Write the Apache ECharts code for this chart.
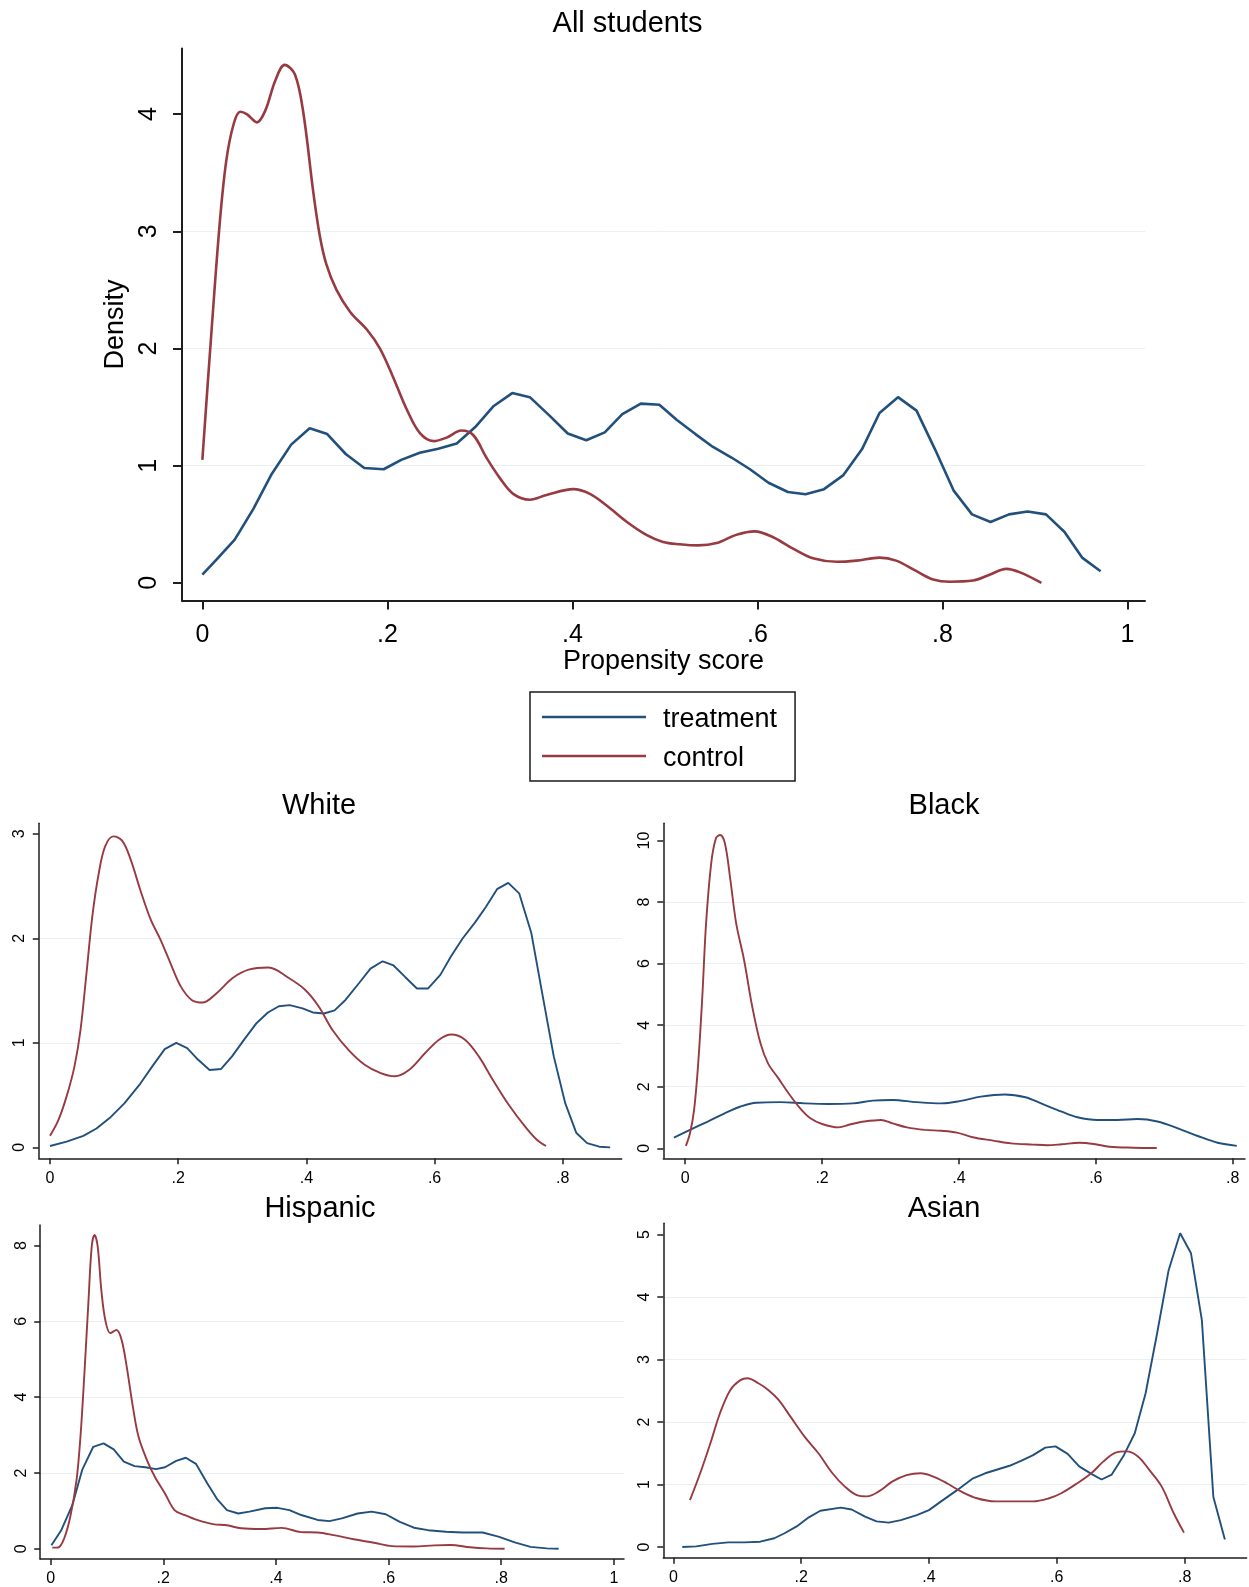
<!DOCTYPE html>
<html>
<head>
<meta charset="utf-8">
<script src="https://cdn.jsdelivr.net/npm/echarts@6/dist/echarts.min.js"></script>
<style>
  html, body { margin: 0; padding: 0; background: #ffffff; }
  #chart { width: 1249px; height: 1587px; }
</style>
</head>
<body>
<div id="chart"></div>
<script>
// Kernel density estimates of the propensity score, treatment vs control.

// ---- All students ----
const allTreatX = [0, 0.0155, 0.035, 0.055, 0.075, 0.096, 0.116, 0.135, 0.155, 0.175,
  0.196, 0.215, 0.235, 0.255, 0.275, 0.295, 0.315, 0.335, 0.354, 0.375,
  0.395, 0.415, 0.435, 0.454, 0.474, 0.494, 0.513, 0.533, 0.552, 0.572,
  0.592, 0.612, 0.633, 0.652, 0.672, 0.693, 0.713, 0.732, 0.752, 0.772,
  0.792, 0.812, 0.832, 0.852, 0.872, 0.892, 0.912, 0.932, 0.951, 0.971];
const allTreatY = [0.07, 0.20, 0.37, 0.63, 0.93, 1.18, 1.32, 1.27, 1.10, 0.98,
  0.97, 1.05, 1.11, 1.145, 1.19, 1.33, 1.51, 1.62, 1.585, 1.43,
  1.275, 1.217, 1.285, 1.44, 1.53, 1.52, 1.39, 1.27, 1.16, 1.07,
  0.97, 0.855, 0.776, 0.756, 0.80, 0.92, 1.14, 1.45, 1.585, 1.47,
  1.14, 0.79, 0.585, 0.52, 0.585, 0.61, 0.585, 0.435, 0.216, 0.10];
const allCtrlX = [0, 0.010, 0.019, 0.026, 0.034, 0.041, 0.048, 0.059, 0.068, 0.079,
  0.089, 0.100, 0.109, 0.120, 0.127, 0.134, 0.145, 0.160, 0.178, 0.192,
  0.206, 0.221, 0.235, 0.250, 0.264, 0.280, 0.293, 0.307, 0.322, 0.336,
  0.354, 0.372, 0.401, 0.419, 0.437, 0.459, 0.480, 0.498, 0.516, 0.536,
  0.556, 0.577, 0.597, 0.617, 0.639, 0.660, 0.686, 0.707, 0.732, 0.750,
  0.772, 0.790, 0.808, 0.833, 0.851, 0.869, 0.884, 0.907];
const allCtrlY = [1.05, 2.16, 3.09, 3.61, 3.92, 4.02, 4.00, 3.93, 4.03, 4.29,
  4.42, 4.34, 4.02, 3.33, 2.96, 2.72, 2.50, 2.31, 2.16, 2.00,
  1.76, 1.48, 1.28, 1.21, 1.24, 1.30, 1.26, 1.07, 0.89, 0.76,
  0.71, 0.75, 0.80, 0.76, 0.66, 0.52, 0.41, 0.35, 0.33, 0.32,
  0.34, 0.41, 0.44, 0.39, 0.29, 0.21, 0.18, 0.19, 0.216, 0.19,
  0.10, 0.03, 0.01, 0.02, 0.07, 0.12, 0.09, 0.0];

// ---- White ----
const whiteTreatX = [0, 0.026, 0.052, 0.0725, 0.093, 0.116, 0.141, 0.159, 0.179, 0.197,
  0.214, 0.229, 0.249, 0.267, 0.284, 0.304, 0.3225, 0.34, 0.357, 0.374,
  0.394, 0.41, 0.4275, 0.444, 0.461, 0.482, 0.50, 0.519, 0.536, 0.554,
  0.5725, 0.59, 0.609, 0.626, 0.644, 0.663, 0.68, 0.6975, 0.715, 0.732,
  0.751, 0.769, 0.786, 0.804, 0.821, 0.838, 0.857, 0.874];
const whiteTreatY = [0.013, 0.054, 0.11, 0.18, 0.28, 0.42, 0.61, 0.77, 0.94, 1.0,
  0.95, 0.85, 0.74, 0.75, 0.87, 1.04, 1.19, 1.29, 1.35, 1.36,
  1.33, 1.29, 1.28, 1.31, 1.41, 1.57, 1.71, 1.78, 1.74, 1.63,
  1.52, 1.52, 1.65, 1.83, 2.0, 2.15, 2.30, 2.47, 2.53, 2.43,
  2.05, 1.44, 0.87, 0.42, 0.14, 0.04, 0.006, 0.0];
const whiteCtrlX = [0, 0.013, 0.026, 0.038, 0.0475, 0.057, 0.066, 0.076, 0.086, 0.099,
  0.113, 0.126, 0.141, 0.157, 0.1725, 0.188, 0.204, 0.221, 0.238, 0.26,
  0.285, 0.31, 0.341, 0.3725, 0.3975, 0.419, 0.441, 0.466, 0.491, 0.516,
  0.538, 0.56, 0.585, 0.607, 0.626, 0.6475, 0.669, 0.691, 0.716, 0.741,
  0.76, 0.774];
const whiteCtrlY = [0.11, 0.26, 0.49, 0.77, 1.12, 1.67, 2.21, 2.62, 2.88, 2.975,
  2.93, 2.75, 2.46, 2.18, 1.985, 1.76, 1.54, 1.41, 1.385, 1.475,
  1.62, 1.70, 1.72, 1.62, 1.51, 1.35, 1.12, 0.93, 0.79, 0.71,
  0.68, 0.74, 0.90, 1.03, 1.08, 1.03, 0.87, 0.645, 0.405, 0.20,
  0.07, 0.013];

// ---- Black ----
const blackTreatX = [-0.0164, 0.007, 0.033, 0.063, 0.080, 0.104, 0.139, 0.174, 0.209, 0.245,
  0.274, 0.303, 0.338, 0.374, 0.403, 0.432, 0.467, 0.497, 0.52, 0.55,
  0.573, 0.602, 0.632, 0.661, 0.69, 0.72, 0.749, 0.778, 0.806];
const blackTreatY = [0.35, 0.60, 0.87, 1.19, 1.35, 1.48, 1.50, 1.46, 1.44, 1.46,
  1.55, 1.57, 1.50, 1.46, 1.54, 1.68, 1.75, 1.66, 1.46, 1.19,
  1.01, 0.92, 0.92, 0.95, 0.87, 0.65, 0.40, 0.18, 0.08];
const blackCtrlX = [0.001, 0.007, 0.013, 0.019, 0.025, 0.0305, 0.038, 0.045, 0.051, 0.058,
  0.066, 0.0745, 0.086, 0.098, 0.11, 0.121, 0.136, 0.151, 0.168, 0.183,
  0.2, 0.224, 0.242, 0.262, 0.286, 0.303, 0.324, 0.35, 0.374, 0.397,
  0.42, 0.45, 0.476, 0.508, 0.529, 0.55, 0.576, 0.597, 0.62, 0.655,
  0.689];
const blackCtrlY = [0.08, 0.49, 1.25, 2.76, 4.93, 7.31, 9.26, 10.08, 10.18, 9.91,
  8.72, 7.31, 6.12, 4.60, 3.41, 2.76, 2.28, 1.79, 1.30, 0.975,
  0.79, 0.68, 0.78, 0.87, 0.92, 0.81, 0.68, 0.60, 0.57, 0.51,
  0.36, 0.25, 0.16, 0.12, 0.10, 0.13, 0.18, 0.14, 0.05, 0.02,
  0.01];

// ---- Hispanic ----
const hispTreatX = [0.0014, 0.0186, 0.0385, 0.056, 0.0757, 0.094, 0.112, 0.13, 0.149, 0.168,
  0.187, 0.203, 0.223, 0.24, 0.258, 0.278, 0.296, 0.313, 0.333, 0.353,
  0.381, 0.4025, 0.424, 0.445, 0.474, 0.495, 0.517, 0.545, 0.57, 0.595,
  0.62, 0.645, 0.67, 0.702, 0.731, 0.767, 0.795, 0.824, 0.852, 0.881,
  0.902];
const hispTreatY = [0.09, 0.48, 1.15, 2.08, 2.69, 2.78, 2.62, 2.30, 2.18, 2.15,
  2.10, 2.15, 2.32, 2.40, 2.24, 1.73, 1.30, 1.02, 0.93, 0.98,
  1.07, 1.08, 1.02, 0.89, 0.76, 0.73, 0.80, 0.93, 0.98, 0.91,
  0.71, 0.555, 0.49, 0.45, 0.43, 0.43, 0.32, 0.17, 0.05, 0.01,
  0.0];
const hispCtrlX = [0.003, 0.0135, 0.024, 0.035, 0.046, 0.053, 0.06, 0.067, 0.073, 0.078,
  0.0835, 0.09, 0.097, 0.106, 0.117, 0.126, 0.135, 0.146, 0.156, 0.171,
  0.185, 0.203, 0.22, 0.238, 0.26, 0.288, 0.313, 0.338, 0.374, 0.41,
  0.445, 0.474, 0.5025, 0.538, 0.574, 0.606, 0.645, 0.681, 0.71, 0.745,
  0.774, 0.806];
const hispCtrlY = [0.03, 0.035, 0.27, 0.85, 1.81, 2.96, 4.63, 6.48, 7.98, 8.28,
  7.98, 6.83, 6.04, 5.69, 5.77, 5.51, 4.81, 3.75, 2.96, 2.34,
  1.90, 1.46, 1.02, 0.89, 0.76, 0.65, 0.62, 0.54, 0.52, 0.55,
  0.44, 0.43, 0.36, 0.25, 0.16, 0.07, 0.06, 0.09, 0.10, 0.04,
  0.01, 0.0];

// ---- Asian ----
const asianTreatX = [0.014, 0.036, 0.061, 0.086, 0.111, 0.136, 0.158, 0.174, 0.193, 0.212,
  0.23, 0.262, 0.279, 0.30, 0.318, 0.337, 0.356, 0.381, 0.40, 0.419,
  0.444, 0.469, 0.488, 0.507, 0.526, 0.544, 0.563, 0.582, 0.598, 0.617,
  0.635, 0.654, 0.67, 0.686, 0.705, 0.722, 0.739, 0.757, 0.775, 0.793,
  0.81, 0.827, 0.845, 0.863];
const asianTreatY = [0.0, 0.01, 0.05, 0.075, 0.075, 0.085, 0.14, 0.22, 0.33, 0.475,
  0.58, 0.63, 0.60, 0.485, 0.41, 0.39, 0.43, 0.51, 0.59, 0.73,
  0.91, 1.10, 1.18, 1.24, 1.30, 1.38, 1.47, 1.59, 1.61, 1.49,
  1.29, 1.17, 1.08, 1.16, 1.47, 1.82, 2.46, 3.42, 4.43, 5.02,
  4.70, 3.63, 0.80, 0.12];
const asianCtrlX = [0.026, 0.042, 0.058, 0.073, 0.089, 0.105, 0.116, 0.133, 0.149, 0.165,
  0.183, 0.205, 0.227, 0.249, 0.268, 0.287, 0.303, 0.3215, 0.343, 0.365,
  0.387, 0.406, 0.428, 0.45, 0.475, 0.504, 0.532, 0.563, 0.588, 0.607,
  0.632, 0.654, 0.673, 0.692, 0.709, 0.727, 0.745, 0.764, 0.783, 0.799];
const asianCtrlY = [0.75, 1.18, 1.66, 2.14, 2.51, 2.67, 2.70, 2.62, 2.51, 2.35,
  2.09, 1.77, 1.50, 1.18, 0.97, 0.83, 0.81, 0.89, 1.05, 1.15,
  1.18, 1.13, 1.02, 0.89, 0.78, 0.73, 0.73, 0.73, 0.78, 0.86,
  1.02, 1.18, 1.37, 1.51, 1.53, 1.45, 1.23, 0.97, 0.54, 0.23];

// Tick labels
const xTicksFull = [0, 0.2, 0.4, 0.6, 0.8, 1];
const xTicksShort = [0, 0.2, 0.4, 0.6, 0.8];
const yTicksAll = [0, 1, 2, 3, 4];
const yTicksWhite = [0, 1, 2, 3];
const yTicksBlack = [0, 2, 4, 6, 8, 10];
const yTicksHisp = [0, 2, 4, 6, 8];
const yTicksAsian = [0, 1, 2, 3, 4, 5];

const seriesNames = ['treatment', 'control'];

// ---- layout & styling ----
const FONT = '"Liberation Sans", Arial, Helvetica, sans-serif';
const BLUE = '#22507c';
const RED = '#983a42';
const AXIS = '#1e1e1e';
const GRID = '#e8f0f2';

// Legend key: a thin bar sitting at the top of a slightly taller box,
// so the label text reads a little below the key line.
const LEGEND_KEY = 'path://M0,0H104V2.5H0Z M0,8.5H0.01V8.49H0Z';

const pairs = (xs, ys) => xs.map((x, i) => [x, ys[i]]);

const panels = [
  { title: 'All students', tx: 627.5, ty: 24, big: true,
    grid: { left: 182, top: 48.5, width: 963, height: 552 },
    xr: [-0.022, 1.019], yr: [-0.15, 4.56], xt: xTicksFull, yt: yTicksAll,
    treat: pairs(allTreatX, allTreatY), ctrl: pairs(allCtrlX, allCtrlY), treatSmooth: false },
  { title: 'White', tx: 319, ty: 806, big: false,
    grid: { left: 38.8, top: 823.3, width: 582.9, height: 335 },
    xr: [-0.0175, 0.892], yr: [-0.105, 3.10], xt: xTicksShort, yt: yTicksWhite,
    treat: pairs(whiteTreatX, whiteTreatY), ctrl: pairs(whiteCtrlX, whiteCtrlY), treatSmooth: false },
  { title: 'Black', tx: 944, ty: 806, big: false,
    grid: { left: 663.3, top: 823.3, width: 581.7, height: 335 },
    xr: [-0.032, 0.818], yr: [-0.325, 10.56], xt: xTicksShort, yt: yTicksBlack,
    treat: pairs(blackTreatX, blackTreatY), ctrl: pairs(blackCtrlX, blackCtrlY), treatSmooth: true },
  { title: 'Hispanic', tx: 320, ty: 1209, big: false,
    grid: { left: 40.2, top: 1225, width: 583.8, height: 334 },
    xr: [-0.0185, 1.018], yr: [-0.27, 8.54], xt: xTicksFull, yt: yTicksHisp,
    treat: pairs(hispTreatX, hispTreatY), ctrl: pairs(hispCtrlX, hispCtrlY), treatSmooth: false },
  { title: 'Asian', tx: 944, ty: 1208.5, big: false,
    grid: { left: 663.3, top: 1223.3, width: 583.3, height: 334.4 },
    xr: [-0.0157, 0.897], yr: [-0.171, 5.18], xt: xTicksShort, yt: yTicksAsian,
    treat: pairs(asianTreatX, asianTreatY), ctrl: pairs(asianCtrlX, asianCtrlY), treatSmooth: false }
];

const fmtX = v => {
  if (Math.abs(v) < 1e-9) return '0';
  if (Math.abs(v - 1) < 1e-9) return '1';
  return v.toFixed(1).replace(/^0/, '');
};

const grids = [], xAxes = [], yAxes = [], series = [], graphics = [];

panels.forEach((p, i) => {
  const tickFs = p.big ? 25 : 16;
  const tickLen = p.big ? 9 : 6;
  const axisW = p.big ? 2 : 1.5;
  const lineW = p.big ? 2.6 : 1.9;

  grids.push(Object.assign({ containLabel: false, outerBoundsMode: 'none' }, p.grid));

  xAxes.push({
    type: 'value', gridIndex: i, min: p.xr[0], max: p.xr[1],
    axisLine: { show: true, onZero: false, lineStyle: { color: AXIS, width: axisW } },
    axisTick: { show: true, length: tickLen, customValues: p.xt, lineStyle: { color: AXIS, width: axisW } },
    axisLabel: { customValues: p.xt, formatter: fmtX, fontSize: tickFs, fontFamily: FONT,
      color: '#000', margin: p.big ? 22 : 12 },
    splitLine: { show: false },
    name: p.big ? 'Propensity score' : '',
    nameLocation: 'middle', nameGap: 48,
    nameTextStyle: { fontSize: 27, fontFamily: FONT, color: '#000' }
  });

  yAxes.push({
    type: 'value', gridIndex: i, min: p.yr[0], max: p.yr[1],
    axisLine: { show: true, onZero: false, lineStyle: { color: AXIS, width: axisW } },
    axisTick: { show: true, length: tickLen, customValues: p.yt, lineStyle: { color: AXIS, width: axisW } },
    axisLabel: { customValues: p.yt, rotate: 90, fontSize: tickFs, fontFamily: FONT,
      color: '#000', margin: p.big ? 20 : 11 },
    splitLine: { show: true, showMinLine: false, showMaxLine: false,
      lineStyle: { color: GRID, width: 1 } },
    name: p.big ? 'Density' : '',
    nameLocation: 'middle', nameGap: 46,
    nameTextStyle: { fontSize: 27, fontFamily: FONT, color: '#000' }
  });

  series.push({
    name: seriesNames[0], type: 'line', xAxisIndex: i, yAxisIndex: i,
    data: p.treat, showSymbol: false, symbol: 'none',
    smooth: p.treatSmooth ? 0.35 : false,
    color: BLUE, lineStyle: { color: BLUE, width: lineW },
    silent: true, animation: false, z: 2
  });
  series.push({
    name: seriesNames[1], type: 'line', xAxisIndex: i, yAxisIndex: i,
    data: p.ctrl, showSymbol: false, symbol: 'none',
    smooth: 0.35,
    color: RED, lineStyle: { color: RED, width: lineW },
    silent: true, animation: false, z: 3
  });

  graphics.push({
    type: 'text', x: p.tx, y: p.ty, silent: true,
    style: { text: p.title, fontSize: 29, fontFamily: FONT, fill: '#000',
      align: 'center', verticalAlign: 'middle',
      textAlign: 'center', textVerticalAlign: 'middle' }
  });
});

const chart = echarts.init(document.getElementById('chart'), null, { renderer: 'canvas' });
chart.setOption({
  backgroundColor: '#ffffff',
  animation: false,
  grid: grids,
  xAxis: xAxes,
  yAxis: yAxes,
  series: series,
  graphic: graphics,
  legend: {
    data: seriesNames,
    orient: 'vertical',
    left: 530, top: 692,
    padding: [13, 18, 7, 12],
    itemGap: 9,
    itemWidth: 104, itemHeight: 8.5,
    icon: LEGEND_KEY,
    itemStyle: { borderWidth: 0 },
    borderColor: '#1a1a1a', borderWidth: 1.5,
    selectedMode: false,
    textStyle: { fontSize: 27, fontFamily: FONT, color: '#000', lineHeight: 30,
      padding: [0, 0, 0, 12] }
  }
});
</script>
</body>
</html>
